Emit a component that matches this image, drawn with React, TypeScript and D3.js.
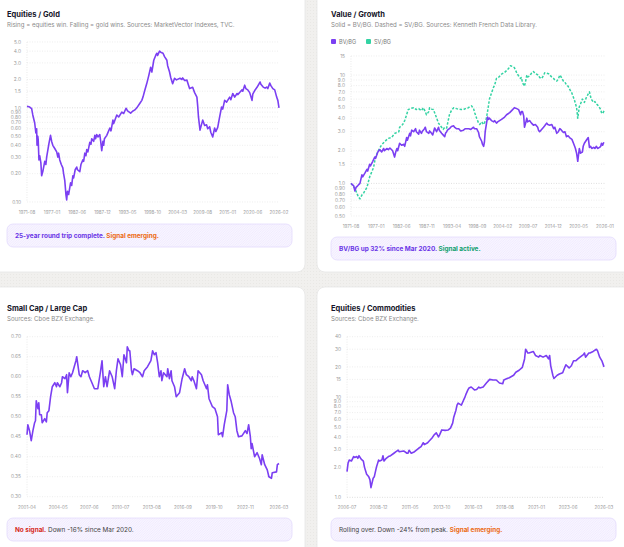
import * as d3 from "d3"

const parseMonth = d3.timeParse("%Y-%m")

const PURPLE = "#7b3ff2"
const GREEN = "#33d3a3"

// Equities / Gold
const eqGoldTicksX = ["1971-08", "1977-01", "1982-06", "1987-12", "1993-05", "1998-10", "2004-03", "2009-08", "2015-01", "2020-06", "2026-02"]
const eqGoldTicksY = ["5.0", "4.0", "3.0", "2.0", "1.5", "1.0", "0.90", "0.80", "0.70", "0.60", "0.50", "0.40", "0.30", "0.20", "0.10"]
const eqGold: [string, number][] = [
  ["1971-08", 1.04], ["1972-03", 1.02], ["1972-08", 0.98], ["1972-11", 0.84], ["1973-04", 0.69], ["1973-07", 0.54],
  ["1973-09", 0.6], ["1973-10", 0.4], ["1973-12", 0.5], ["1974-01", 0.46], ["1974-03", 0.28], ["1974-05", 0.31],
  ["1974-08", 0.26], ["1974-10", 0.19], ["1975-01", 0.21], ["1975-06", 0.27], ["1975-09", 0.25], ["1975-11", 0.3],
  ["1976-05", 0.42], ["1976-09", 0.51], ["1976-12", 0.44], ["1977-03", 0.4], ["1977-08", 0.37], ["1978-01", 0.34],
  ["1978-04", 0.3], ["1978-06", 0.33], ["1978-09", 0.28], ["1979-01", 0.25], ["1979-05", 0.23], ["1979-07", 0.2],
  ["1979-10", 0.17], ["1980-01", 0.12], ["1980-03", 0.105], ["1980-05", 0.13], ["1980-08", 0.12], ["1981-01", 0.16],
  ["1981-04", 0.15], ["1981-07", 0.19], ["1981-09", 0.18], ["1982-01", 0.22], ["1982-05", 0.235], ["1982-07", 0.22],
  ["1983-01", 0.21], ["1983-04", 0.25], ["1983-09", 0.28], ["1983-11", 0.27], ["1984-02", 0.33], ["1984-05", 0.31],
  ["1984-07", 0.36], ["1984-10", 0.34], ["1985-03", 0.43], ["1985-06", 0.41], ["1985-08", 0.47], ["1986-01", 0.44],
  ["1986-04", 0.51], ["1986-06", 0.47], ["1986-09", 0.52], ["1986-12", 0.49], ["1987-05", 0.52], ["1987-07", 0.45],
  ["1987-10", 0.35], ["1988-01", 0.44], ["1988-03", 0.4], ["1988-05", 0.47], ["1988-11", 0.51], ["1989-07", 0.61],
  ["1989-10", 0.57], ["1990-03", 0.74], ["1990-05", 0.68], ["1991-01", 0.84], ["1991-06", 0.8], ["1992-02", 0.9],
  ["1992-07", 0.87], ["1993-01", 0.99], ["1993-05", 0.93], ["1994-01", 0.88], ["1994-06", 0.92], ["1994-12", 0.95],
  ["1995-05", 1.0], ["1996-01", 1.12], ["1996-06", 1.2], ["1996-09", 1.3], ["1997-01", 1.5], ["1997-07", 1.82],
  ["1997-12", 2.2], ["1998-05", 2.7], ["1998-08", 2.4], ["1999-01", 3.2], ["1999-06", 3.6], ["1999-09", 3.8],
  ["1999-11", 3.6], ["2000-04", 4.0], ["2000-07", 3.9], ["2001-01", 3.8], ["2001-05", 3.5], ["2001-11", 3.2],
  ["2002-01", 2.8], ["2002-06", 2.4], ["2002-09", 2.1], ["2003-02", 1.8], ["2003-07", 2.06], ["2003-12", 1.98],
  ["2004-09", 2.06], ["2005-02", 2.0], ["2005-04", 2.08], ["2005-09", 1.95], ["2006-03", 1.97], ["2006-07", 1.75],
  ["2006-10", 1.6], ["2007-06", 1.65], ["2007-11", 1.45], ["2008-05", 1.3], ["2008-07", 1.05], ["2008-09", 0.8],
  ["2009-01", 0.58], ["2009-03", 0.62], ["2009-08", 0.74], ["2010-01", 0.65], ["2010-06", 0.66], ["2010-09", 0.6],
  ["2011-02", 0.63], ["2011-05", 0.55], ["2011-10", 0.49], ["2012-03", 0.61], ["2012-06", 0.56], ["2012-11", 0.62],
  ["2013-04", 0.8], ["2013-09", 1.02], ["2013-12", 0.97], ["2014-05", 1.2], ["2014-10", 1.15], ["2015-06", 1.3],
  ["2015-09", 1.22], ["2016-02", 1.42], ["2016-07", 1.3], ["2017-01", 1.42], ["2017-03", 1.38], ["2017-09", 1.47],
  ["2018-02", 1.55], ["2018-04", 1.5], ["2018-09", 1.74], ["2018-12", 1.6], ["2019-05", 1.55], ["2019-10", 1.45],
  ["2020-04", 1.2], ["2020-06", 1.4], ["2020-12", 1.55], ["2021-05", 1.65], ["2022-01", 1.88], ["2022-03", 1.78],
  ["2022-09", 1.66], ["2023-02", 1.62], ["2023-06", 1.66], ["2023-09", 1.6], ["2024-02", 1.83], ["2024-05", 1.72],
  ["2024-10", 1.6], ["2025-03", 1.55], ["2025-08", 1.3], ["2025-11", 1.2], ["2026-02", 1.0],
]

// Value / Growth
const valGrowthTicksX = ["1971-08", "1977-01", "1982-06", "1987-11", "1993-04", "1998-09", "2004-02", "2009-07", "2014-12", "2020-05", "2026-01"]
const valGrowthTicksY = ["15", "10", "9.0", "8.0", "7.0", "6.0", "5.0", "4.0", "3.0", "2.0", "1.5", "1.0", "0.90", "0.80", "0.70", "0.60", "0.50"]
const bvbg: [string, number][] = [
  ["1971-08", 1.0], ["1972-03", 0.95], ["1972-06", 0.85], ["1972-09", 0.92], ["1973-01", 0.95], ["1973-07", 1.0],
  ["1973-12", 1.2], ["1974-02", 1.15], ["1974-08", 1.25], ["1975-01", 1.35], ["1975-03", 1.3], ["1975-08", 1.5],
  ["1975-10", 1.45], ["1976-04", 1.6], ["1976-09", 1.75], ["1976-11", 1.7], ["1977-05", 1.95], ["1977-10", 2.05],
  ["1978-03", 1.95], ["1978-08", 2.1], ["1978-10", 2.0], ["1979-04", 2.1], ["1979-08", 2.05], ["1979-12", 2.12],
  ["1980-07", 2.0], ["1980-09", 1.9], ["1980-12", 1.75], ["1981-03", 1.95], ["1981-06", 2.1], ["1981-08", 2.0],
  ["1982-01", 2.35], ["1982-06", 2.25], ["1982-12", 2.3], ["1983-02", 2.2], ["1983-07", 2.65], ["1983-09", 2.5],
  ["1984-03", 2.9], ["1984-05", 2.75], ["1984-08", 3.1], ["1985-01", 3.0], ["1985-06", 3.2], ["1985-08", 3.0],
  ["1986-02", 2.85], ["1986-04", 3.1], ["1986-09", 2.9], ["1986-12", 3.05], ["1987-05", 3.2], ["1987-07", 3.3],
  ["1987-10", 3.0], ["1988-04", 2.9], ["1988-06", 3.05], ["1988-11", 2.9], ["1989-02", 2.8], ["1989-07", 3.25],
  ["1989-12", 3.0], ["1990-05", 3.3], ["1990-07", 3.1], ["1991-01", 2.9], ["1991-03", 2.85], ["1991-09", 2.7],
  ["1991-11", 2.9], ["1992-02", 3.0], ["1992-04", 3.1], ["1992-09", 3.2], ["1993-02", 3.35], ["1993-08", 3.4],
  ["1993-10", 3.3], ["1994-03", 3.2], ["1994-09", 3.2], ["1995-02", 3.05], ["1995-09", 3.1], ["1996-02", 3.2],
  ["1996-11", 3.2], ["1997-04", 3.15], ["1997-11", 3.3], ["1998-01", 3.2], ["1998-07", 3.2], ["1998-12", 2.95],
  ["1999-02", 2.7], ["1999-08", 2.45], ["1999-10", 2.3], ["2000-01", 2.2], ["2000-03", 2.4], ["2000-05", 3.0],
  ["2000-11", 4.1], ["2001-01", 3.9], ["2001-04", 4.0], ["2001-09", 3.8], ["2002-03", 3.7], ["2002-05", 3.8],
  ["2002-10", 3.6], ["2003-01", 3.7], ["2003-06", 3.8], ["2003-11", 3.9], ["2004-07", 4.1], ["2004-12", 4.3],
  ["2005-08", 4.5], ["2006-01", 4.7], ["2006-08", 5.0], ["2007-02", 4.9], ["2007-07", 4.8], ["2007-12", 4.3],
  ["2008-02", 4.6], ["2008-05", 4.6], ["2008-08", 4.2], ["2008-10", 3.3], ["2009-01", 3.6], ["2009-04", 4.0],
  ["2009-06", 3.7], ["2009-11", 3.8], ["2010-04", 3.6], ["2010-09", 3.45], ["2011-02", 3.5], ["2011-08", 3.3],
  ["2011-10", 3.1], ["2012-01", 3.0], ["2012-06", 3.15], ["2012-11", 3.3], ["2013-02", 3.4], ["2013-07", 3.6],
  ["2013-10", 3.5], ["2014-03", 3.45], ["2014-08", 3.5], ["2015-01", 3.2], ["2015-04", 3.3], ["2015-09", 2.9],
  ["2016-01", 3.0], ["2016-05", 3.2], ["2016-09", 3.1], ["2017-02", 2.95], ["2017-06", 3.0], ["2017-10", 2.7],
  ["2018-02", 2.75], ["2018-06", 2.65], ["2018-12", 2.55], ["2019-04", 2.35], ["2019-07", 2.2], ["2019-09", 2.1],
  ["2019-12", 1.9], ["2020-03", 1.6], ["2020-07", 2.1], ["2020-10", 1.9], ["2021-03", 1.95], ["2021-05", 2.2],
  ["2021-08", 2.35], ["2022-01", 2.5], ["2022-06", 2.65], ["2022-09", 2.15], ["2022-12", 2.2], ["2023-03", 2.1],
  ["2023-08", 2.15], ["2023-11", 2.1], ["2024-03", 2.2], ["2024-06", 2.1], ["2024-11", 2.15], ["2025-02", 2.2],
  ["2025-04", 2.35], ["2025-07", 2.25], ["2025-10", 2.4],
]
const svbg: [string, number][] = [
  ["1971-08", 1.0], ["1972-06", 0.9], ["1973-03", 0.75], ["1973-07", 0.72], ["1973-12", 0.78], ["1974-05", 0.82],
  ["1975-01", 0.92], ["1975-08", 1.15], ["1976-06", 1.4], ["1976-11", 1.75], ["1977-06", 2.0], ["1978-02", 2.25],
  ["1978-09", 2.4], ["1979-07", 2.6], ["1980-04", 2.65], ["1981-01", 2.9], ["1981-11", 3.0], ["1982-01", 3.3],
  ["1982-09", 3.5], ["1983-02", 3.8], ["1983-07", 4.3], ["1983-11", 4.8], ["1984-04", 4.9], ["1985-01", 5.0],
  ["1985-08", 4.8], ["1986-02", 4.9], ["1986-09", 4.7], ["1987-02", 5.0], ["1987-07", 4.6], ["1987-10", 4.3],
  ["1988-04", 4.6], ["1988-06", 5.0], ["1988-11", 4.85], ["1989-04", 4.8], ["1989-09", 4.3], ["1990-05", 3.6],
  ["1990-10", 3.4], ["1991-05", 3.15], ["1991-09", 3.3], ["1992-02", 3.25], ["1992-09", 4.3], ["1993-02", 4.7],
  ["1993-08", 5.0], ["1994-03", 4.9], ["1994-09", 4.85], ["1995-04", 4.8], ["1995-09", 4.8], ["1996-02", 4.9],
  ["1996-08", 4.95], ["1997-01", 5.1], ["1997-06", 5.2], ["1997-11", 4.9], ["1998-02", 4.5], ["1998-07", 4.0],
  ["1998-12", 3.6], ["1999-03", 3.5], ["1999-08", 3.7], ["2000-01", 3.5], ["2000-03", 3.6], ["2000-08", 4.0],
  ["2000-11", 4.6], ["2001-04", 6.0], ["2001-09", 6.8], ["2002-03", 7.8], ["2002-05", 8.0], ["2002-10", 9.3],
  ["2003-03", 9.5], ["2003-11", 10.2], ["2004-07", 10.6], ["2004-12", 11.0], ["2005-05", 11.5], ["2005-10", 12.2],
  ["2006-03", 12.0], ["2006-08", 11.7], ["2007-02", 10.5], ["2007-07", 9.8], ["2007-12", 9.3], ["2008-02", 9.5],
  ["2008-05", 8.5], ["2008-10", 7.9], ["2009-01", 8.8], ["2009-04", 10.0], ["2009-06", 9.6], ["2009-11", 9.8],
  ["2010-04", 10.4], ["2010-09", 10.8], ["2011-02", 10.3], ["2011-10", 10.0], ["2012-01", 9.5], ["2012-06", 9.3],
  ["2012-11", 9.9], ["2013-02", 10.5], ["2013-07", 10.4], ["2013-12", 10.3], ["2014-08", 9.6], ["2015-01", 9.3],
  ["2015-04", 9.0], ["2015-09", 8.8], ["2016-01", 9.2], ["2016-05", 10.0], ["2016-09", 9.5], ["2017-02", 8.8],
  ["2017-06", 8.6], ["2017-10", 8.1], ["2018-02", 7.9], ["2018-06", 7.4], ["2018-12", 6.8], ["2019-04", 6.2],
  ["2019-07", 5.8], ["2019-12", 5.0], ["2020-03", 4.0], ["2020-07", 5.1], ["2020-10", 5.4], ["2021-03", 6.0],
  ["2021-08", 5.6], ["2022-01", 6.2], ["2022-06", 6.7], ["2022-09", 7.0], ["2022-12", 6.3], ["2023-03", 5.9],
  ["2023-08", 5.6], ["2023-11", 5.7], ["2024-03", 5.4], ["2024-06", 5.3], ["2024-11", 5.0], ["2025-02", 4.8],
  ["2025-04", 4.5], ["2025-07", 4.4], ["2025-12", 4.8],
]

// Small Cap / Large Cap
const smallLargeTicksX = ["2001-04", "2004-05", "2007-06", "2010-07", "2013-08", "2016-09", "2019-10", "2022-11", "2026-03"]
const smallLargeTicksY = ["0.70", "0.65", "0.60", "0.55", "0.50", "0.45", "0.40", "0.35", "0.30"]
const smallLarge: [string, number][] = [
  ["2001-04", 0.455], ["2001-05", 0.48], ["2001-07", 0.465], ["2001-09", 0.44], ["2001-11", 0.465], ["2002-01", 0.485],
  ["2002-02", 0.49], ["2002-03", 0.54], ["2002-05", 0.52], ["2002-06", 0.535], ["2002-07", 0.505], ["2002-09", 0.505],
  ["2002-10", 0.485], ["2003-01", 0.495], ["2003-03", 0.487], ["2003-04", 0.51], ["2003-06", 0.515], ["2003-08", 0.55],
  ["2003-10", 0.575], ["2004-01", 0.585], ["2004-03", 0.575], ["2004-04", 0.585], ["2004-07", 0.575], ["2004-09", 0.585],
  ["2004-10", 0.6], ["2005-01", 0.595], ["2005-03", 0.605], ["2005-04", 0.56], ["2005-06", 0.61], ["2005-08", 0.6],
  ["2005-10", 0.61], ["2006-02", 0.64], ["2006-03", 0.65], ["2006-05", 0.62], ["2006-06", 0.605], ["2006-08", 0.6],
  ["2006-10", 0.615], ["2007-01", 0.61], ["2007-04", 0.615], ["2007-06", 0.6], ["2007-09", 0.585], ["2007-12", 0.57],
  ["2008-04", 0.57], ["2008-07", 0.61], ["2008-09", 0.64], ["2008-11", 0.575], ["2009-01", 0.6], ["2009-03", 0.575],
  ["2009-06", 0.615], ["2009-09", 0.6], ["2009-12", 0.57], ["2010-02", 0.615], ["2010-04", 0.645], ["2010-07", 0.63],
  ["2010-09", 0.6], ["2010-11", 0.655], ["2011-02", 0.635], ["2011-03", 0.675], ["2011-05", 0.665], ["2011-06", 0.665],
  ["2011-08", 0.615], ["2011-09", 0.605], ["2011-11", 0.62], ["2012-03", 0.615], ["2012-06", 0.61], ["2012-09", 0.6],
  ["2012-11", 0.615], ["2013-03", 0.625], ["2013-07", 0.64], ["2013-09", 0.665], ["2013-11", 0.655], ["2014-01", 0.66],
  ["2014-03", 0.635], ["2014-05", 0.6], ["2014-07", 0.615], ["2014-08", 0.59], ["2014-10", 0.61], ["2015-02", 0.6],
  ["2015-03", 0.62], ["2015-05", 0.595], ["2015-07", 0.615], ["2015-08", 0.59], ["2015-11", 0.575], ["2016-01", 0.55],
  ["2016-05", 0.56], ["2016-08", 0.595], ["2016-11", 0.62], ["2017-01", 0.605], ["2017-04", 0.6], ["2017-07", 0.59],
  ["2017-08", 0.6], ["2017-10", 0.59], ["2018-01", 0.57], ["2018-03", 0.615], ["2018-07", 0.605], ["2018-09", 0.59],
  ["2019-01", 0.57], ["2019-02", 0.58], ["2019-04", 0.545], ["2019-08", 0.525], ["2019-11", 0.52], ["2020-02", 0.5],
  ["2020-03", 0.455], ["2020-07", 0.46], ["2020-08", 0.45], ["2020-10", 0.48], ["2021-01", 0.515], ["2021-02", 0.58],
  ["2021-04", 0.555], ["2021-06", 0.54], ["2021-09", 0.51], ["2021-11", 0.5], ["2022-01", 0.465], ["2022-03", 0.45],
  ["2022-07", 0.452], ["2022-11", 0.465], ["2023-01", 0.458], ["2023-03", 0.48], ["2023-05", 0.45], ["2023-06", 0.42],
  ["2023-07", 0.433], ["2023-10", 0.4], ["2024-01", 0.41], ["2024-04", 0.395], ["2024-06", 0.38], ["2024-07", 0.405],
  ["2024-10", 0.38], ["2025-01", 0.367], ["2025-03", 0.35], ["2025-06", 0.346], ["2025-07", 0.36], ["2025-12", 0.362],
  ["2026-01", 0.38], ["2026-03", 0.383],
]

// Equities / Commodities
const eqCommTicksX = ["2006-07", "2008-12", "2011-05", "2013-10", "2016-03", "2018-08", "2021-01", "2023-06", "2026-03"]
const eqCommTicksY = ["40", "30", "20", "15", "10", "9.0", "8.0", "7.0", "6.0", "5.0", "4.0", "3.0", "2.0", "1.0"]
const eqComm: [string, number][] = [
  ["2006-07", 1.8], ["2006-08", 2.2], ["2006-09", 2.35], ["2006-11", 2.3], ["2007-01", 2.55], ["2007-02", 2.5],
  ["2007-04", 2.55], ["2007-05", 2.45], ["2007-06", 2.6], ["2007-08", 2.4], ["2007-10", 2.3], ["2007-11", 2.0],
  ["2008-01", 1.7], ["2008-03", 1.6], ["2008-04", 1.5], ["2008-05", 1.25], ["2008-07", 1.55], ["2008-08", 1.6],
  ["2008-10", 2.0], ["2008-12", 2.35], ["2009-01", 2.3], ["2009-03", 2.35], ["2009-04", 2.6], ["2009-05", 2.3],
  ["2009-07", 2.45], ["2009-09", 2.55], ["2009-11", 2.6], ["2010-02", 2.75], ["2010-04", 2.85], ["2010-06", 2.95],
  ["2010-07", 2.85], ["2010-11", 2.9], ["2011-02", 2.75], ["2011-03", 2.75], ["2011-04", 2.95], ["2011-06", 2.75],
  ["2011-09", 2.85], ["2012-01", 3.1], ["2012-03", 3.2], ["2012-05", 3.5], ["2012-06", 3.35], ["2012-09", 3.5],
  ["2012-10", 3.6], ["2013-01", 3.9], ["2013-03", 4.2], ["2013-05", 4.4], ["2013-07", 4.0], ["2013-08", 4.2],
  ["2013-10", 4.7], ["2014-01", 4.65], ["2014-04", 4.7], ["2014-06", 4.9], ["2014-08", 5.5], ["2014-09", 6.3],
  ["2014-11", 7.4], ["2014-12", 8.3], ["2015-01", 8.7], ["2015-04", 8.3], ["2015-06", 9.3], ["2015-07", 9.8],
  ["2015-08", 10.5], ["2015-10", 11.8], ["2015-11", 12.3], ["2016-01", 12.6], ["2016-04", 11.8], ["2016-06", 11.9],
  ["2016-08", 12.6], ["2016-09", 12.3], ["2016-12", 12.6], ["2017-03", 13.8], ["2017-06", 15.0], ["2017-09", 14.8],
  ["2017-12", 14.8], ["2018-03", 13.8], ["2018-06", 13.6], ["2018-07", 14.8], ["2018-10", 15.3], ["2018-12", 15.6],
  ["2019-04", 16.5], ["2019-06", 17.7], ["2019-09", 18.5], ["2019-12", 19.8], ["2020-02", 24], ["2020-03", 30],
  ["2020-05", 27.5], ["2020-06", 27.5], ["2020-10", 28.5], ["2020-12", 26], ["2021-03", 25], ["2021-04", 26],
  ["2021-07", 25], ["2021-10", 26], ["2021-12", 24], ["2022-01", 26], ["2022-02", 20.5], ["2022-04", 16.5],
  ["2022-05", 15.3], ["2022-08", 16.5], ["2022-10", 17], ["2023-01", 17.5], ["2023-03", 19.8], ["2023-04", 21],
  ["2023-06", 20], ["2023-07", 19.5], ["2023-09", 20.5], ["2023-11", 23], ["2024-01", 23], ["2024-03", 24],
  ["2024-05", 25], ["2024-08", 26.5], ["2024-09", 27.5], ["2024-10", 25], ["2025-01", 27.5], ["2025-02", 27.5],
  ["2025-05", 28.5], ["2025-08", 30], ["2025-09", 29], ["2025-11", 25], ["2026-01", 23], ["2026-03", 20],
]

type Part = { text: string; color: string; bold?: boolean }
type Series = { data: [string, number][]; color: string; dash?: string }

type PanelProps = {
  ox: number
  oy: number
  title: string
  subtitle: string
  series: Series[]
  xTicks: string[]
  yTicks: string[]
  log: boolean
  plot: { x0: number; x1: number; top: number; bottom: number }
  xLabelY: number
  callout: { y: number; parts: Part[] }
  legend?: { label: string; color: string }[]
}

const FONT = "Inter, 'Noto Sans', sans-serif"

function Panel({ ox, oy, title, subtitle, series, xTicks, yTicks, log, plot, xLabelY, callout, legend }: PanelProps) {
  const yVals = yTicks.map((t) => +t)
  const yDomain = d3.extent(yVals) as [number, number]
  const y = log
    ? d3.scaleLog().domain(yDomain).range([plot.bottom, plot.top])
    : d3.scaleLinear().domain(yDomain).range([plot.bottom, plot.top])
  const x = d3
    .scaleTime()
    .domain([parseMonth(xTicks[0])!, parseMonth(xTicks[xTicks.length - 1])!])
    .range([plot.x0, plot.x1])
  const line = d3
    .line<[string, number]>()
    .x((d) => x(parseMonth(d[0])!))
    .y((d) => y(d[1]))

  return (
    <g transform={`translate(${ox},${oy})`} fontFamily={FONT}>
      <text x={7} y={16.5} fontSize={7.5} fontWeight={700} fill="#16162a">
        {title}
      </text>
      <text x={7} y={27} fontSize={6.1} fill="#8a8a8a">
        {subtitle}
      </text>
      {legend && (
        <g>
          {legend.map((l, i) => (
            <g key={l.label} transform={`translate(${7 + i * 35},39)`}>
              <rect width={5} height={5} rx={1} fill={l.color} />
              <text x={8} y={4.6} fontSize={5.6} fill="#777">
                {l.label}
              </text>
            </g>
          ))}
        </g>
      )}
      <line x1={plot.x0} x2={plot.x0} y1={plot.top} y2={plot.bottom} stroke="#dcdcdc" strokeWidth={0.6} strokeDasharray="1 1.5" />
      {yVals.map((v, i) => (
        <g key={yTicks[i]}>
          <line
            x1={plot.x0}
            x2={plot.x1}
            y1={y(v)}
            y2={y(v)}
            stroke={v === 1 && log ? "#c8c8c8" : "#e2e2e2"}
            strokeWidth={0.6}
            strokeDasharray="1 1.5"
          />
          <text x={plot.x0 - 6} y={y(v)} dy="0.35em" textAnchor="end" fontSize={4.8} fill="#9a9a9a">
            {yTicks[i]}
          </text>
        </g>
      ))}
      {xTicks.map((t) => (
        <text key={t} x={x(parseMonth(t)!)} y={xLabelY} textAnchor="middle" fontSize={4.5} fill="#9a9a9a">
          {t}
        </text>
      ))}
      {series.map((s, i) => (
        <path
          key={i}
          d={line(s.data)!}
          fill="none"
          stroke={s.color}
          strokeWidth={s.dash ? 1.5 : 1.6}
          strokeDasharray={s.dash}
          strokeLinejoin="round"
        />
      ))}
      <rect x={7} y={callout.y} width={285} height={23} rx={6} fill="url(#hatch)" stroke="#e3dafc" strokeWidth={0.8} />
      <text x={15} y={callout.y + 14} fontSize={6.4} xmlSpace="preserve">
        {callout.parts.map((p, i) => (
          <tspan key={i} fill={p.color} fontWeight={p.bold ? 700 : 400}>
            {p.text}
          </tspan>
        ))}
      </text>
    </g>
  )
}

export default function App() {
  return (
    <svg width={624} height={547} style={{ position: "fixed", left: 0, top: 0, background: "#f0efed" }}>
      <defs>
        <pattern id="hatch" width={2.4} height={2.4} patternUnits="userSpaceOnUse">
          <rect width={2.4} height={2.4} fill="#f8f5ff" />
          <path d="M0,2.4 L2.4,0" stroke="#ebe4fd" strokeWidth={0.6} />
        </pattern>
        <pattern id="bgtex" width={3} height={3} patternUnits="userSpaceOnUse">
          <rect width={3} height={3} fill="#f1f0ee" />
          <circle cx={1.5} cy={1.5} r={0.5} fill="#e7e6e3" />
        </pattern>
      </defs>
      <rect width={624} height={547} fill="url(#bgtex)" />
      <rect x={-10} y={-10} width={315} height={282} rx={8} fill="#fff" stroke="#e6e6e6" strokeWidth={0.8} />
      <rect x={317} y={-10} width={320} height={282} rx={8} fill="#fff" stroke="#e6e6e6" strokeWidth={0.8} />
      <rect x={-10} y={287} width={315} height={280} rx={8} fill="#fff" stroke="#e6e6e6" strokeWidth={0.8} />
      <rect x={317} y={287} width={320} height={280} rx={8} fill="#fff" stroke="#e6e6e6" strokeWidth={0.8} />

      <Panel
        ox={0}
        oy={0}
        title="Equities / Gold"
        subtitle="Rising = equities win. Falling = gold wins. Sources: MarketVector Indexes, TVC."
        series={[{ data: eqGold, color: PURPLE }]}
        xTicks={eqGoldTicksX}
        yTicks={eqGoldTicksY}
        log
        plot={{ x0: 27, x1: 279, top: 42, bottom: 202 }}
        xLabelY={213.5}
        callout={{
          y: 224,
          parts: [
            { text: "25-year round trip complete. ", color: "#6a34e6", bold: true },
            { text: "Signal emerging.", color: "#ec6a12", bold: true },
          ],
        }}
      />
      <Panel
        ox={324}
        oy={0}
        title="Value / Growth"
        subtitle="Solid = BV/BG. Dashed = SV/BG. Sources: Kenneth French Data Library."
        series={[
          { data: svbg, color: GREEN, dash: "2.5 1.6" },
          { data: bvbg, color: PURPLE },
        ]}
        legend={[
          { label: "BV/BG", color: PURPLE },
          { label: "SV/BG", color: GREEN },
        ]}
        xTicks={valGrowthTicksX}
        yTicks={valGrowthTicksY}
        log
        plot={{ x0: 27, x1: 281, top: 56, bottom: 216 }}
        xLabelY={227.5}
        callout={{
          y: 237,
          parts: [
            { text: "BV/BG up 32% since Mar 2020. ", color: "#6a34e6", bold: true },
            { text: "Signal active.", color: "#0f9f6e", bold: true },
          ],
        }}
      />
      <Panel
        ox={0}
        oy={294}
        title="Small Cap / Large Cap"
        subtitle="Sources: Cboe BZX Exchange."
        series={[{ data: smallLarge, color: PURPLE }]}
        xTicks={smallLargeTicksX}
        yTicks={smallLargeTicksY}
        log={false}
        plot={{ x0: 27, x1: 279, top: 42.7, bottom: 202.7 }}
        xLabelY={214.5}
        callout={{
          y: 224,
          parts: [
            { text: "No signal.", color: "#d6291c", bold: true },
            { text: " Down -16% since Mar 2020.", color: "#444" },
          ],
        }}
      />
      <Panel
        ox={324}
        oy={294}
        title="Equities / Commodities"
        subtitle="Sources: Cboe BZX Exchange."
        series={[{ data: eqComm, color: PURPLE }]}
        xTicks={eqCommTicksX}
        yTicks={eqCommTicksY}
        log
        plot={{ x0: 23, x1: 280, top: 42.7, bottom: 203.3 }}
        xLabelY={214.5}
        callout={{
          y: 224,
          parts: [
            { text: "Rolling over. Down -24% from peak. ", color: "#444" },
            { text: "Signal emerging.", color: "#ec6a12", bold: true },
          ],
        }}
      />
    </svg>
  )
}
